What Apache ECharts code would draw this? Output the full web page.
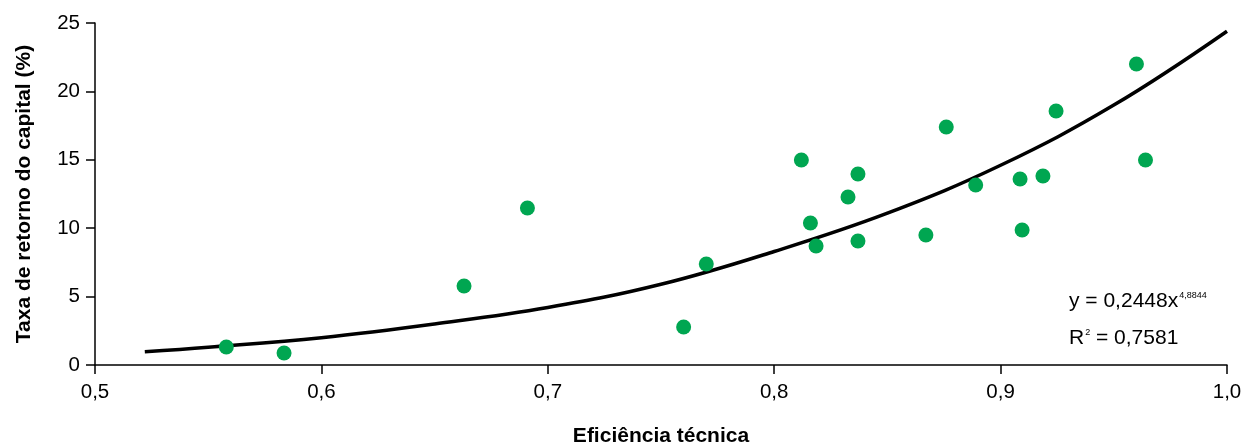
<!DOCTYPE html>
<html>
<head>
<meta charset="utf-8">
<script src="https://cdn.jsdelivr.net/npm/echarts@6/dist/echarts.min.js"></script>
<style>
  html, body { margin: 0; padding: 0; background: #fff; }
  #chart { width: 1244px; height: 448px; }
</style>
</head>
<body>
<div id="chart"></div>
<script>
// eficiência técnica x taxa de retorno (%)
var efficiency = [0.558, 0.5835, 0.663, 0.691, 0.760, 0.770, 0.812, 0.816, 0.8185, 0.8326, 0.837,
    0.837, 0.867, 0.876, 0.889, 0.9086, 0.9095, 0.9187, 0.9245, 0.960, 0.964, 1.001];
var returnRate = [1.32, 0.88, 5.77, 11.48, 2.78, 7.38, 14.99, 10.38, 8.70, 12.28, 13.96,
    9.06, 9.50, 17.40, 13.16, 13.60, 9.87, 13.82, 18.57, 22.0, 14.99, 23.44];

// points
var trendX = [0.522, 0.55, 0.6, 0.65, 0.7, 0.75, 0.8, 0.85, 0.9, 0.95, 1.0];
var trendY = [0.97, 1.3, 2.0, 3.0, 4.2, 5.9, 8.3, 11.1, 14.6, 19.0, 24.4];

var xTicks = [0.5, 0.6, 0.7, 0.8, 0.9, 1.0];
var yTicks = [0, 5, 10, 15, 20, 25];

var fontFamily = '"Liberation Sans", Arial, sans-serif';

var chart = echarts.init(document.getElementById('chart'));

var eqRich = {
    a: { fontSize: 21, fontFamily: fontFamily, fill: '#000', verticalAlign: 'bottom' },
    s: { fontSize: 9, fontFamily: fontFamily, fill: '#000', verticalAlign: 'top', padding: [0, 0, 12, 1] }
};

var option = {
    animation: false,
    textStyle: { fontFamily: fontFamily },
    grid: {
        left: 95,
        right: 17,
        top: 23,
        bottom: 83,
        outerBoundsMode: 'none'
    },
    xAxis: {
        type: 'value',
        min: xTicks[0],
        max: xTicks[xTicks.length - 1],
        interval: 0.1,
        name: 'Eficiência técnica',
        nameLocation: 'middle',
        nameGap: 61,
        nameTextStyle: {
            fontFamily: fontFamily,
            fontWeight: 'bold',
            fontSize: 21,
            color: '#000'
        },
        axisLine: { lineStyle: { color: '#000', width: 1.5 } },
        axisTick: { length: 9, lineStyle: { color: '#000', width: 1.5 } },
        axisLabel: {
            margin: 17,
            fontSize: 20.5,
            color: '#000',
            formatter: function (v) {
                return v.toFixed(1).replace('.', ',');
            }
        },
        splitLine: { show: false }
    },
    yAxis: {
        type: 'value',
        min: yTicks[0],
        max: yTicks[yTicks.length - 1],
        interval: 5,
        name: 'Taxa de retorno do capital (%)',
        nameLocation: 'middle',
        nameGap: 60,
        nameTextStyle: {
            fontFamily: fontFamily,
            fontWeight: 'bold',
            fontSize: 21,
            color: '#000'
        },
        axisLine: { show: true, lineStyle: { color: '#000', width: 1.5 } },
        axisTick: { show: true, length: 9, lineStyle: { color: '#000', width: 1.5 } },
        axisLabel: {
            margin: 15,
            fontSize: 20.5,
            color: '#000'
        },
        splitLine: { show: false }
    },
    series: [
        {
            type: 'line',
            data: trendX.map(function (x, i) { return [x, trendY[i]]; }),
            smooth: 0.4,
            showSymbol: false,
            lineStyle: { color: '#000', width: 3.5 },
            z: 1
        },
        {
            type: 'scatter',
            data: efficiency.map(function (x, i) { return [x, returnRate[i]]; }),
            symbolSize: 15,
            itemStyle: { color: '#00A651', opacity: 1 },
            z: 2
        }
    ],
    graphic: [
        {
            type: 'text',
            left: 1069,
            top: 291,
            style: {
                text: '{a|y = 0,2448x}{s|4,8844}',
                rich: eqRich
            }
        },
        {
            type: 'text',
            left: 1069,
            top: 328,
            style: {
                text: '{a|R}{s|2}{a| = 0,7581}',
                rich: eqRich
            }
        }
    ]
};

chart.setOption(option);
</script>
</body>
</html>
